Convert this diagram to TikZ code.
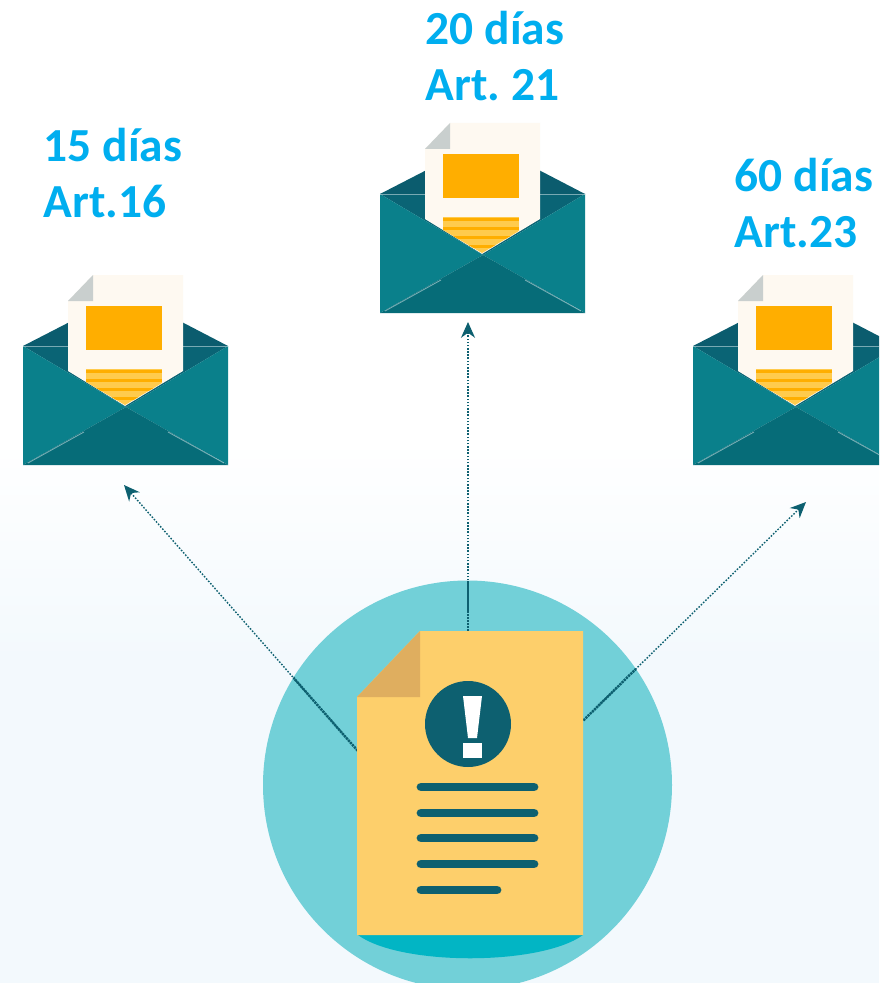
\documentclass[tikz,border=0pt]{standalone}
\usepackage{fontspec}
\setmainfont{Carlito}
\usetikzlibrary{arrows.meta}

\definecolor{labelblue}{HTML}{00AEEF}
\definecolor{mailside}{HTML}{0A808B}
\definecolor{mailbottom}{HTML}{066C78}
\definecolor{mailinner}{HTML}{0A6475}
\definecolor{mailback}{HTML}{0B5C6E}
\definecolor{paperwhite}{HTML}{FEF9F1}
\definecolor{paperfold}{HTML}{C9CFCE}
\definecolor{paperblock}{HTML}{FFAE00}
\definecolor{paperstripe}{HTML}{FFCB4D}
\definecolor{discteal}{HTML}{72D0D8}
\definecolor{docyellow}{HTML}{FDCF6B}
\definecolor{docfold}{HTML}{DFAE5F}
\definecolor{docdark}{HTML}{0D6070}
\definecolor{docshadow}{HTML}{02B5C4}
\definecolor{washblue}{HTML}{F3F9FD}

\tikzset{
    label text/.style={text=labelblue, font=\fontsize{27}{31.5}\selectfont\bfseries, align=left, inner sep=0pt, outer sep=0pt},
    link/.style={draw=docdark, line width=0.8pt, dash pattern=on 0.9pt off 0.9pt, -{Stealth[length=9pt, width=8pt]}},
    link inside/.style={draw=docdark, line width=1.4pt, dash pattern=on 1.2pt off 0.5pt},
    text bar/.style={draw=docdark, line width=5pt, line cap=round},
    pics/mail/.style={code={
        % back of the envelope
        \fill [mailback] (-103,-59) -- (0,-112) -- (102,-59) -- cycle;
        \fill [mailinner] (-103,-59) -- (102,-59) -- (0,2) -- cycle;
        % the sheet sticking out
        \fill [paperwhite] (-33,-130) -- (57,-130) -- (57,-34) -- (-1,1) -- (-58,-34) -- (-58,-104) -- cycle;
        \fill [paperfold] (-33,-130) -- (-33,-104) -- (-58,-104) -- cycle;
        \fill [paperblock] (-40,-99) rectangle (36,-55);
        \begin{scope}
            \clip (-40,-36) -- (36,-36) -- (36,-22) -- (-1,0) -- (-40,-23) -- cycle;
            \fill [paperstripe] (-40,-36) rectangle (36,1);
            \foreach \y in {-35,-26,-17,-8} {
                \fill [paperblock] (-40,\y) rectangle (36,\y+2.5);
            }
        \end{scope}
        % front of the envelope
        \fill [mailside] (-103,-59) -- (0,2) -- (-103,60) -- cycle;
        \fill [mailside] (102,-59) -- (0,2) -- (102,60) -- cycle;
        \fill [mailbottom] (-103,60) -- (0,2) -- (102,60) -- cycle;
        % thin pale seams
        \draw [white, opacity=0.45, line width=0.5pt] (-103,-59) -- (-58,-59) (57,-59) -- (102,-59);
        \draw [white, opacity=0.45, line width=0.5pt] (-98,58) -- (-42,27) (98,58) -- (42,27);
    }}
}

\begin{document}
\begin{tikzpicture}[x=0.02cm, y=-0.02cm]
    \useasboundingbox (0,0) rectangle (879,983);
    \clip (0,0) rectangle (879,983);

    % pale wash behind everything
    \fill [white] (0,0) rectangle (879,983);
    \shade [top color=white, bottom color=washblue] (0,440) rectangle (879,660);
    \fill [washblue] (0,660) rectangle (879,983);

    % the three letters
    \pic at (126,405) {mail};
    \pic at (483,253) {mail};
    \pic at (796,405) {mail};

    \node [label text] (leftlabel) at (113,173) {15 días\\Art.16};
    \node [label text] (midlabel) at (495,56) {20 días\\Art.\kern-1.7pt{} 21};
    \node [label text] (rightlabel) at (804,203) {60 días\\Art.23};

    % big disc and the notice on it
    \fill [discteal] (467.5,785) circle (204.5);
    \fill [docshadow] (358,935) .. controls (400,966) and (540,966) .. (583,935) -- cycle;

    \node [minimum width=4.52cm, minimum height=6.08cm, inner sep=0pt, outer sep=0pt] (notice) at (470.5,783) {};
    \coordinate (lefttip) at (124,485);
    \coordinate (midtip) at (468,322);
    \coordinate (righttip) at (806,502);

    \draw [link] (notice.164.7) -- (lefttip);
    \draw [link] (notice.north -| midtip) -- (midtip);
    \draw [link] (notice.29.1) -- (righttip);
    \begin{scope}
        \clip (467.5,785) circle (204.5);
        \draw [link inside] (notice.164.7) -- (lefttip);
        \draw [link inside] (notice.north -| midtip) -- (midtip);
        \draw [link inside] (notice.29.1) -- (righttip);
    \end{scope}

    \fill [docyellow] (420,631) -- (583,631) -- (583,935) -- (357,935) -- (357,697) -- cycle;
    \fill [docfold] (420,631) -- (420,697) -- (357,697) -- cycle;

    % warning sign
    \fill [docdark] (468,724) circle (43);
    \fill [white] (463,696) -- (482,696) -- (477,738) -- (468,738) -- cycle;
    \fill [white] (463,743) rectangle (482,758);

    % lines of text
    \foreach \y in {787,813,838,864} {
        \draw [text bar] (421,\y) -- (534,\y);
    }
    \draw [text bar] (421,890) -- (497,890);
\end{tikzpicture}
\end{document}
